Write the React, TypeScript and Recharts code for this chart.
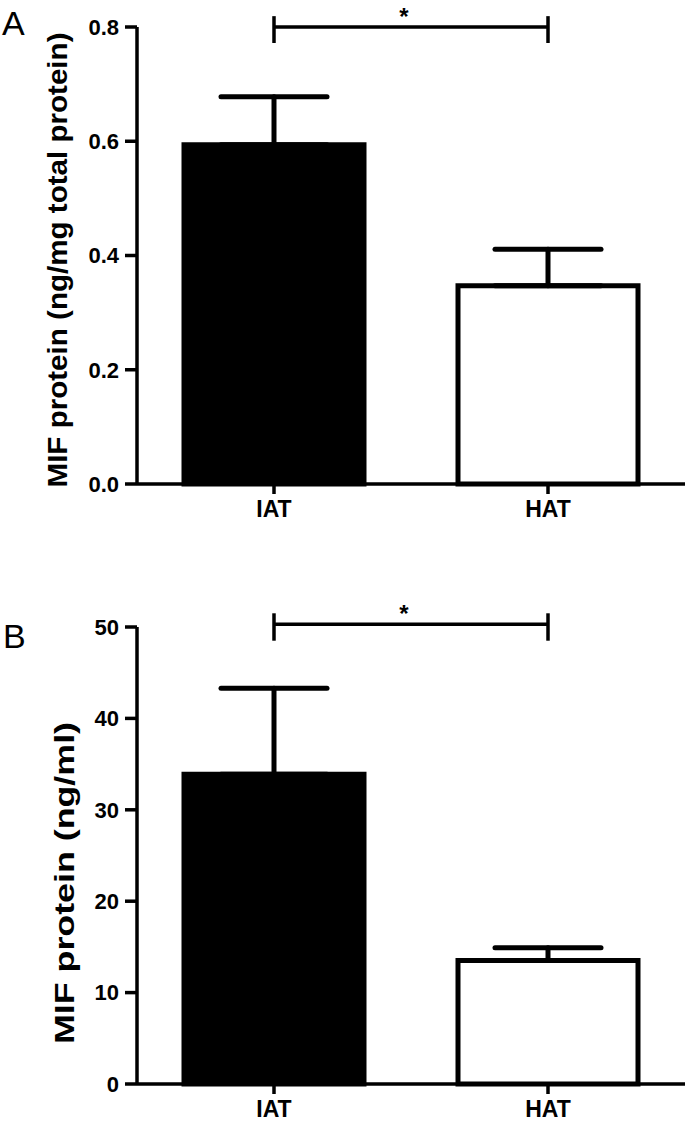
import React from 'react';
import { BarChart, Bar, XAxis, YAxis, ErrorBar, ReferenceLine, Cell, Label } from 'recharts';

const categories = ['IAT', 'HAT'];
const barFills = ['#000000', '#ffffff'];

const panelAValues = [0.594, 0.347];
const panelAErrors = [0.084, 0.064];
const panelATicks = [0, 0.2, 0.4, 0.6, 0.8];
const panelABracket = [0.8, 0.772, 0.819];

const panelBValues = [33.9, 13.5];
const panelBErrors = [9.4, 1.4];
const panelBTicks = [0, 10, 20, 30, 40, 50];
const panelBBracket = [50.3, 48.5, 51.5];

const FONT = '"Liberation Sans", Arial, sans-serif';

const buildData = (vals: number[], errs: number[]) =>
  categories.map((c, i) => ({ name: c, value: vals[i], err: [0, errs[i]] }));

type PanelProps = {
  data: { name: string; value: number; err: number[] }[];
  ticks: number[];
  domainMax: number;
  fmt: (v: number) => string;
  bracket: number[];
  yLabel: string;
  labelPos: [number, number];
  labelSize: number;
  labelLength: number;
  height: number;
  margin: { top: number; right: number; bottom: number; left: number };
};

const Panel = ({ data, ticks, domainMax, fmt, bracket, yLabel, labelPos, labelSize, labelLength, height, margin }: PanelProps) => (
  <BarChart width={692} height={height} data={data} margin={margin} barSize={180}>
    <XAxis
      dataKey="name"
      height={30}
      axisLine={{ stroke: '#000', strokeWidth: 3.5 }}
      tickLine={{ stroke: '#000', strokeWidth: 3.5 }}
      tickSize={10}
      tickMargin={7}
      tick={{ fill: '#000', fontFamily: FONT, fontWeight: 'bold', fontSize: 23 }}
    />
    <YAxis
      width={137}
      domain={[0, domainMax]}
      ticks={ticks}
      interval={0}
      tickFormatter={fmt}
      axisLine={{ stroke: '#000', strokeWidth: 3.5 }}
      tickLine={{ stroke: '#000', strokeWidth: 3.5 }}
      tickSize={12}
      tickMargin={6}
      tick={{ fill: '#000', fontFamily: FONT, fontWeight: 'bold', fontSize: 22 }}
    >
      <Label
        content={() => (
          <text
            transform={`translate(${labelPos[0]},${labelPos[1]}) rotate(-90)`}
            textAnchor="middle"
            dominantBaseline="central"
            fontFamily={FONT}
            fontWeight="bold"
            fontSize={labelSize}
            textLength={labelLength}
            lengthAdjust="spacingAndGlyphs"
            fill="#000"
          >
            {yLabel}
          </text>
        )}
      />
    </YAxis>
    <Bar dataKey="value" stroke="#000" strokeWidth={5} isAnimationActive={false}>
      {data.map((d, i) => (
        <Cell key={d.name} fill={barFills[i]} />
      ))}
      <ErrorBar dataKey="err" direction="y" width={53} stroke="#000" strokeWidth={5} strokeLinecap="round" isAnimationActive={false} />
    </Bar>
    <ReferenceLine
      segment={[{ x: categories[0], y: bracket[0] }, { x: categories[1], y: bracket[0] }]}
      stroke="#000"
      strokeWidth={3.5}
      ifOverflow="visible"
      label={{ value: '*', position: 'top', offset: 2, dx: -7, fill: '#000', fontFamily: FONT, fontWeight: 'bold', fontSize: 24 }}
    />
    <ReferenceLine
      segment={[{ x: categories[0], y: bracket[1] }, { x: categories[0], y: bracket[2] }]}
      stroke="#000"
      strokeWidth={3.5}
      ifOverflow="visible"
    />
    <ReferenceLine
      segment={[{ x: categories[1], y: bracket[1] }, { x: categories[1], y: bracket[2] }]}
      stroke="#000"
      strokeWidth={3.5}
      ifOverflow="visible"
    />
  </BarChart>
);

export default function App() {
  const dataA = buildData(panelAValues, panelAErrors);
  const dataB = buildData(panelBValues, panelBErrors);
  return (
    <div style={{ position: 'absolute', left: 0, top: 0, width: 692, height: 1125, background: '#fff' }}>
      <div style={{ position: 'absolute', left: 0, top: 0 }}>
        <Panel
          data={dataA}
          ticks={panelATicks}
          domainMax={0.8}
          fmt={(v) => v.toFixed(1)}
          bracket={panelABracket}
          yLabel="MIF protein (ng/mg total protein)"
          labelPos={[57, 260]}
          labelSize={28}
          labelLength={455}
          height={560}
          margin={{ top: 27, right: 7, bottom: 46, left: 0 }}
        />
      </div>
      <div style={{ position: 'absolute', left: 0, top: 560 }}>
        <Panel
          data={dataB}
          ticks={panelBTicks}
          domainMax={50}
          fmt={(v) => String(v)}
          bracket={panelBBracket}
          yLabel="MIF protein (ng/ml)"
          labelPos={[64, 323]}
          labelSize={28}
          labelLength={322}
          height={565}
          margin={{ top: 67, right: 7, bottom: 11, left: 0 }}
        />
      </div>
      <div style={{ position: 'absolute', left: 2, top: 6, fontFamily: FONT, fontSize: 34, lineHeight: '34px', color: '#000' }}>A</div>
      <div style={{ position: 'absolute', left: 3, top: 619, fontFamily: FONT, fontSize: 34, lineHeight: '34px', color: '#000' }}>B</div>
    </div>
  );
}
